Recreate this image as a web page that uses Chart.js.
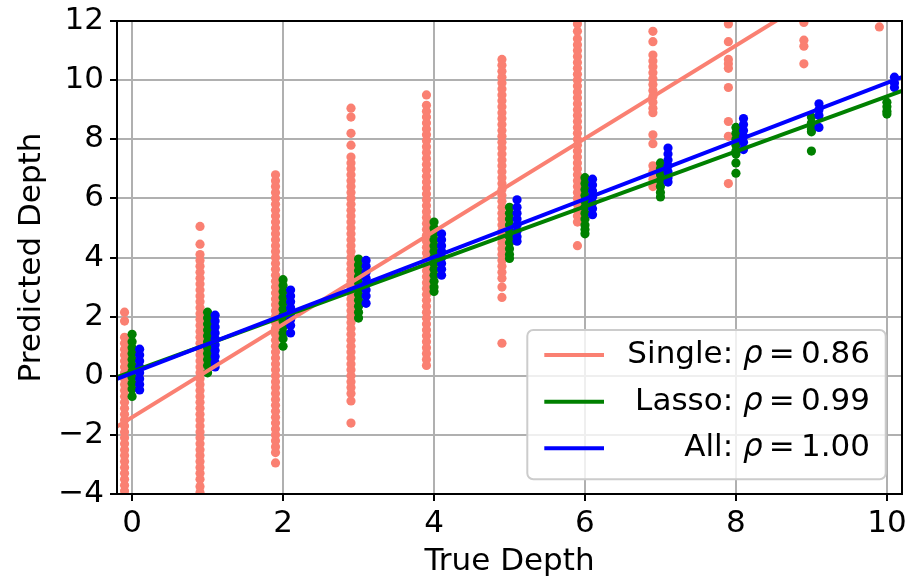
<!DOCTYPE html>
<html><head><meta charset="utf-8">
<script src="https://cdn.jsdelivr.net/npm/chart.js@4/dist/chart.umd.min.js"></script>
<style>html,body{margin:0;padding:0;background:#fff}</style>
</head><body>
<canvas id="c" width="908" height="578"></canvas>
<script>
// ---- data ----
const trueDepths = [0, 1, 2, 3, 4, 5, 6, 7, 8, 9, 10];
const xTicks = [0, 2, 4, 6, 8, 10];
const yTicks = [-4, -2, 0, 2, 4, 6, 8, 10, 12];
const seriesLabels = ['Single: ρ = 0.86', 'Lasso: ρ = 0.99', 'All: ρ = 1.00'];

const singlePred = [
  [2.15, 1.85, 1.3, 1.1, 0.9, 0.7, 0.5, 0.3, 0.1, -0.1, -0.3, -0.5, -0.7, -0.9, -1.1, -1.3, -1.5, -1.7, -1.9, -2.1, -2.3, -2.5, -2.7, -2.9, -3.1, -3.3, -3.5, -3.7, -3.9, -4.1],
  [5.05, 4.45, 4.1, 3.9, 3.7, 3.5, 3.3, 3.1, 2.9, 2.7, 2.5, 2.3, 2.1, 1.9, 1.7, 1.5, 1.3, 1.1, 0.9, 0.7, 0.5, 0.3, 0.1, -0.1, -0.3, -0.5, -0.7, -0.9, -1.1, -1.3, -1.5, -1.7, -1.9, -2.1, -2.3, -2.5, -2.7, -2.9, -3.1, -3.3, -3.5, -3.75, -3.95],
  [6.8, 6.6, 6.4, 6.2, 6.0, 5.8, 5.6, 5.4, 5.2, 5.0, 4.8, 4.6, 4.4, 4.2, 4.0, 3.8, 3.6, 3.4, 3.2, 3.0, 2.8, 2.6, 2.4, 2.2, 2.0, 1.8, 1.6, 1.4, 1.2, 1.0, 0.8, 0.6, 0.4, 0.2, 0.0, -0.2, -0.4, -0.6, -0.8, -1.0, -1.2, -1.4, -1.6, -1.8, -2.0, -2.2, -2.4, -2.6, -2.95],
  [9.05, 8.75, 8.2, 7.8, 7.4, 7.2, 7.0, 6.8, 6.6, 6.4, 6.2, 6.0, 5.8, 5.6, 5.4, 5.2, 5.0, 4.8, 4.6, 4.4, 4.2, 4.0, 3.8, 3.6, 3.4, 3.2, 3.0, 2.8, 2.6, 2.4, 2.2, 2.0, 1.8, 1.6, 1.4, 1.2, 1.0, 0.8, 0.6, 0.4, 0.2, 0.0, -0.2, -0.4, -0.6, -0.85, -1.6],
  [9.5, 9.15, 8.95, 8.75, 8.55, 8.35, 8.15, 7.95, 7.75, 7.55, 7.35, 7.15, 6.95, 6.75, 6.55, 6.35, 6.15, 5.95, 5.75, 5.55, 5.35, 5.15, 4.95, 4.75, 4.55, 4.35, 4.15, 3.95, 3.75, 3.55, 3.35, 3.15, 2.95, 2.75, 2.55, 2.35, 2.15, 1.95, 1.75, 1.55, 1.35, 1.15, 0.95, 0.75, 0.55, 0.35],
  [10.7, 10.5, 10.3, 10.1, 9.9, 9.7, 9.5, 9.3, 9.1, 8.9, 8.7, 8.5, 8.3, 8.1, 7.9, 7.7, 7.5, 7.3, 7.1, 6.9, 6.7, 6.5, 6.3, 6.1, 5.9, 5.7, 5.5, 5.3, 5.1, 4.9, 4.7, 4.5, 4.3, 4.1, 3.9, 3.7, 3.5, 3.3, 3.0, 2.65, 1.1],
  [12.1, 11.9, 11.65, 11.4, 11.2, 11.0, 10.8, 10.6, 10.4, 10.2, 10.0, 9.8, 9.6, 9.4, 9.2, 9.0, 8.8, 8.6, 8.4, 8.2, 8.0, 7.8, 7.6, 7.4, 7.2, 7.0, 6.8, 6.6, 6.4, 6.2, 6.0, 5.8, 5.6, 5.4, 5.2, 4.4],
  [11.65, 11.3, 10.85, 10.65, 10.45, 10.25, 10.05, 9.85, 9.65, 9.45, 9.25, 9.05, 8.9, 8.15, 7.85, 7.1, 6.9, 6.65, 6.4],
  [11.9, 11.3, 10.7, 10.55, 10.4, 9.75, 8.6, 8.1, 6.5],
  [11.95, 11.35, 11.15, 10.55],
  [11.8]
];
const lassoPred = [
  [1.4, 1.15, 0.95, 0.75, 0.55, 0.35, 0.15, -0.05, -0.25, -0.45, -0.7],
  [2.15, 1.95, 1.75, 1.55, 1.35, 1.15, 0.95, 0.75, 0.55, 0.35, 0.1],
  [3.25, 3.05, 2.85, 2.65, 2.45, 2.25, 2.05, 1.85, 1.65, 1.45, 1.25, 1.0],
  [3.95, 3.75, 3.55, 3.35, 3.15, 2.95, 2.75, 2.55, 2.35, 2.15, 1.95],
  [5.2, 5.0, 4.8, 4.6, 4.4, 4.2, 4.0, 3.8, 3.6, 3.4, 3.2, 3.0, 2.85],
  [5.7, 5.5, 5.3, 5.1, 4.9, 4.7, 4.5, 4.3, 4.1, 3.97],
  [6.7, 6.5, 6.3, 6.1, 5.9, 5.7, 5.5, 5.3, 5.1, 4.95, 4.8],
  [7.2, 7.0, 6.8, 6.6, 6.4, 6.2, 6.05],
  [8.4, 8.2, 8.0, 7.8, 7.6, 7.5, 7.2, 6.85],
  [8.75, 8.55, 8.35, 8.25, 7.6],
  [9.25, 9.1, 8.95, 8.85]
];
const allPred = [
  [0.9, 0.7, 0.5, 0.3, 0.1, -0.1, -0.3, -0.48],
  [2.05, 1.85, 1.65, 1.45, 1.25, 1.05, 0.85, 0.65, 0.45, 0.3],
  [2.9, 2.7, 2.5, 2.3, 2.1, 1.9, 1.7, 1.45],
  [3.9, 3.7, 3.5, 3.3, 3.1, 2.9, 2.7, 2.45],
  [4.8, 4.6, 4.4, 4.2, 4.0, 3.8, 3.6, 3.4],
  [5.95, 5.7, 5.5, 5.3, 5.1, 4.9, 4.7, 4.55],
  [6.65, 6.45, 6.25, 6.05, 5.85, 5.65, 5.45],
  [7.7, 7.5, 7.3, 7.1, 6.9, 6.7, 6.55],
  [8.7, 8.5, 8.3, 8.1, 7.9, 7.65],
  [9.2, 9.0, 8.8, 8.4],
  [10.1, 9.9, 9.75]
];
// fitted lines: value at the left (-0.2) and right (10.2) ends of the axis
const fitX = [-0.2, 10.2];
const singleFit = [-1.72, 14.63];
const lassoFit = [-0.05, 9.64];
const allFit = [-0.11, 10.1];

// ---- styles ----
const colSingle = '#fa8072', colLasso = '#008000', colAll = '#0000ff';
const FONT = 'DejaVu Sans';
const FS = 31;

function pts(groups, shift) {
  const out = [];
  groups.forEach((g, i) => g.forEach(v => out.push({x: trueDepths[i] + shift, y: v})));
  return out;
}
function fitPts(vals) { return fitX.map((x, i) => ({x, y: vals[i]})); }

function scatterDS(data, color, order) {
  return {type: 'scatter', data, backgroundColor: color, borderWidth: 0, pointRadius: 4.6,
          pointHoverRadius: 4.6, order, clip: 0};
}
function lineDS(label, data, color, order) {
  return {type: 'line', label, data, borderColor: color, backgroundColor: color, borderWidth: 4,
          pointRadius: 0, fill: false, tension: 0, order, clip: 0};
}

const spines = {
  id: 'spines',
  afterDatasetsDraw(chart) {
    const {ctx, chartArea: a} = chart;
    ctx.save();
    ctx.strokeStyle = '#000'; ctx.lineWidth = 2;
    ctx.strokeRect(a.left, a.top, a.right - a.left, a.bottom - a.top);
    ctx.restore();
  }
};

const mplLegend = {
  id: 'mplLegend',
  afterDraw(chart) {
    const {ctx, chartArea: a} = chart;
    const lines = chart.data.datasets.filter(d => d.type === 'line');
    const right = a.right - 16.3, bottom = a.bottom - 14.7;
    const w = 358.4, h = 149.3;
    const left = right - w, top = bottom - h;
    ctx.save();
    ctx.beginPath();
    ctx.roundRect(left, top, w, h, 6);
    ctx.fillStyle = 'rgba(255,255,255,0.8)';
    ctx.fill();
    ctx.strokeStyle = '#cccccc'; ctx.lineWidth = 2;
    ctx.stroke();
    const rowY = [top + 25, top + 71.7, top + 118.3];
    const textRight = right - 15.7;
    lines.forEach((d, i) => {
      const y = rowY[i];
      ctx.strokeStyle = d.borderColor; ctx.lineWidth = 4; ctx.lineCap = 'butt';
      ctx.beginPath(); ctx.moveTo(left + 17, y); ctx.lineTo(left + 76.7, y); ctx.stroke();
      const parts = d.label.split('ρ');
      const pre = parts[0];
      const post = parts[1].replace(' = ', '\u2009=\u2009');
      const normal = FS + 'px "' + FONT + '"';
      const ital = 'italic ' + FS + 'px "' + FONT + '"';
      ctx.textBaseline = 'middle'; ctx.fillStyle = '#000'; ctx.textAlign = 'left';
      ctx.font = normal; const wPost = ctx.measureText(post).width; const wPre = ctx.measureText(pre).width;
      ctx.font = ital; const wRho = ctx.measureText('ρ').width;
      let x = textRight - wPost - wRho - wPre;
      ctx.font = normal; ctx.fillText(pre, x, y); x += wPre;
      ctx.font = ital; ctx.fillText('ρ', x, y); x += wRho;
      ctx.font = normal; ctx.fillText(post, x, y);
    });
    ctx.restore();
  }
};

Chart.defaults.font.family = FONT;
Chart.defaults.font.size = FS;
Chart.defaults.color = '#000';

new Chart(document.getElementById('c'), {
  type: 'scatter',
  data: {
    datasets: [
      lineDS(seriesLabels[0], fitPts(singleFit), colSingle, 2),
      lineDS(seriesLabels[1], fitPts(lassoFit), colLasso, 1),
      lineDS(seriesLabels[2], fitPts(allFit), colAll, 0),
      scatterDS(pts(singlePred, -0.1), colSingle, 5),
      scatterDS(pts(lassoPred, 0), colLasso, 4),
      scatterDS(pts(allPred, 0.1), colAll, 3)
    ]
  },
  options: {
    responsive: false,
    animation: false,
    events: [],
    layout: {padding: {top: 21, right: 6, left: 0, bottom: 0}},
    plugins: {legend: {display: false}, tooltip: {enabled: false}},
    scales: {
      x: {
        type: 'linear', min: -0.2, max: 10.2,
        afterBuildTicks: s => { s.ticks = xTicks.map(v => ({value: v})); },
        afterFit: s => { s.height = 84; s.paddingLeft = 0; s.paddingRight = 0; },
        ticks: {includeBounds: false, padding: 4, font: {size: FS}, color: '#000',
                callback: v => String(v).replace('-', '\u2212')},
        grid: {color: '#b0b0b0', lineWidth: 2, tickColor: '#000', tickWidth: 2, tickLength: 7},
        border: {display: false},
        title: {display: true, text: 'True Depth', font: {size: FS}, color: '#000', padding: {top: 0, bottom: -3}}
      },
      y: {
        type: 'linear', min: -4, max: 12,
        afterBuildTicks: s => { s.ticks = yTicks.map(v => ({value: v})); },
        afterFit: s => { s.width = 117; s.paddingTop = 0; s.paddingBottom = 0; },
        ticks: {includeBounds: false, padding: 6, font: {size: FS}, color: '#000',
                callback: v => String(v).replace('-', '\u2212')},
        grid: {color: '#b0b0b0', lineWidth: 2, tickColor: '#000', tickWidth: 2, tickLength: 7},
        border: {display: false},
        title: {display: true, text: 'Predicted Depth', font: {size: FS}, color: '#000', padding: {top: 13.5, bottom: 0}}
      }
    }
  },
  plugins: [spines, mplLegend]
});
</script>
</body></html>
